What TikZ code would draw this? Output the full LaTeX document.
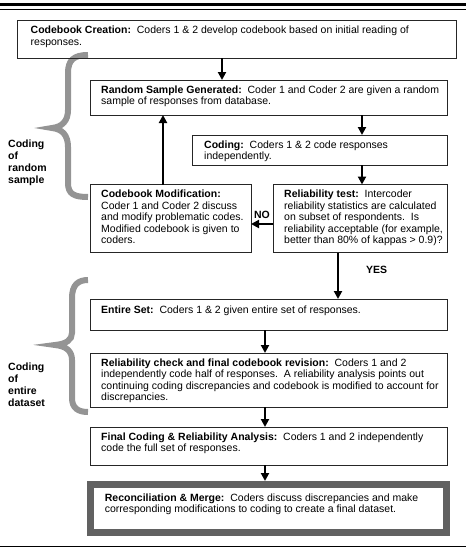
\documentclass[tikz,border=0pt]{standalone}
\usepackage{fontspec}
\setmainfont{Liberation Sans}
\usetikzlibrary{arrows.meta,calc}
\begin{document}
\begin{tikzpicture}[x=1pt,y=-1pt,
  box/.style={draw=black!85, line width=0.9pt, inner sep=0pt, outer sep=0pt, anchor=north west},
  txt/.style={anchor=north west, inner sep=0pt, align=left, font=\fontsize{10.5}{11.5}\selectfont},
  arr/.style={line width=2pt, -{Triangle[length=8pt,width=8pt]}},
  brace/.style={draw=black!42, line width=6pt},
  lbl/.style={anchor=north west, inner sep=0pt, align=left, font=\fontsize{10.5}{12.2}\selectfont\bfseries},
  yn/.style={inner sep=0pt, font=\fontsize{10.5}{12}\selectfont\bfseries}]
\useasboundingbox (0,0) rectangle (466,554);
% rules
\draw[line width=2.5pt] (0,4.5) -- (466,4.5);
\draw[line width=0.8pt] (0,9) -- (466,9);
\draw[line width=1.6pt] (0,546.5) -- (466,546.5);
% braces
\draw[brace] (88,55) .. controls (74,55) and (68,60) .. (68,73) -- (68,110) .. controls (68,121) and (62,127) .. (52,128) .. controls (62,129) and (68,135) .. (68,147) -- (68,183) .. controls (68,194) and (74,197) .. (88,197);
\draw[brace] (88,280) .. controls (78,280) and (72,285) .. (72,298) -- (72,333) .. controls (72,340) and (66,344) .. (55,345) .. controls (66,346) and (72,351) .. (72,360) -- (72,398) .. controls (72,408) and (78,412) .. (88,412);
\node[lbl] (l1) at (8,139.5) {Coding\\of\\random\\sample};
\node[lbl] (l2) at (8,362.5) {Coding\\of\\entire\\dataset};
% boxes
\node[box, minimum width=439pt, minimum height=38pt] (b1) at (17,20) {};
\node[box, minimum width=357pt, minimum height=35pt] (b2) at (90,80) {};
\node[box, minimum width=255pt, minimum height=30pt] (b3) at (192,135) {};
\node[box, minimum width=174pt, minimum height=68pt] (b4) at (273,184.5) {};
\node[box, minimum width=161pt, minimum height=68pt] (b5) at (90,184.5) {};
\node[box, minimum width=357pt, minimum height=31pt] (b6) at (90,299) {};
\node[box, minimum width=357pt, minimum height=54pt] (b7) at (90,353) {};
\node[box, minimum width=357pt, minimum height=38pt] (b8) at (90,427) {};
\node[box, draw=black!62, line width=7pt, minimum width=356.5pt, minimum height=48pt] (b9) at (90.2,484.5) {};
% texts
\node[txt] (t1) at ($(b1.north west)+(13.5,5.8)$) {\textbf{Codebook Creation:}\ \ Coders 1 \& 2 develop codebook based on initial reading of\\responses.};
\node[txt] (t2) at ($(b2.north west)+(11,5.3)$) {\textbf{Random Sample Generated:}\ \ Coder 1 and Coder 2 are given a random\\sample of responses from database.};
\node[txt] (t3) at ($(b3.north west)+(12,5.3)$) {\textbf{Coding:}\ \ Coders 1 \& 2 code responses\\independently.};
\node[txt] (t4) at ($(b4.north west)+(11,5.3)$) {\textbf{Reliability test:}\ \ Intercoder\\reliability statistics are calculated\\on subset of respondents.\ \ Is\\reliability acceptable (for example,\\better than 80\% of kappas > 0.9)?};
\node[txt] (t5) at ($(b5.north west)+(11,5.3)$) {\textbf{Codebook Modification:}\\Coder 1 and Coder 2 discuss\\and modify problematic codes.\\Modified codebook is given to\\coders.};
\node[txt] (t6) at ($(b6.north west)+(11,6.3)$) {\textbf{Entire Set:}\ \ Coders 1 \& 2 given entire set of responses.};
\node[txt] (t7) at ($(b7.north west)+(11,5.3)$) {\textbf{Reliability check and final codebook revision:}\ \ Coders 1 and 2\\independently code half of responses.\ \ A reliability analysis points out\\continuing coding discrepancies and codebook is modified to account for\\discrepancies.};
\node[txt] (t8) at ($(b8.north west)+(11,5.3)$) {\textbf{Final Coding \& Reliability Analysis:}\ \ Coders 1 and 2 independently\\code the full set of responses.};
\node[txt] (t9) at ($(b9.north west)+(14.5,8.8)$) {\textbf{Reconciliation \& Merge:}\ \ Coders discuss discrepancies and make\\corresponding modifications to coding to create a final dataset.};
% arrows
\draw[arr] (b1.south -| 222,0) -- (b2.north -| 222,0);
\draw[arr] (b2.south -| 362,0) -- (b3.north -| 362,0);
\draw[arr] (b3.south -| 362,0) -- (b4.north -| 362,0);
\draw[arr] (b4.west |- 0,224) -- (b5.east |- 0,224);
\node[yn, anchor=base] (no) at (262,218) {NO};
\draw[arr] (b5.north -| 163,0) -- (b2.south -| 163,0);
\draw[arr] (b4.south -| 338,0) -- (b6.north -| 338,0);
\node[yn, anchor=base west] (yes) at (366,273) {YES};
\draw[arr] (b6.south -| 265,0) -- (b7.north -| 265,0);
\draw[arr] (b7.south -| 265,0) -- (b8.north -| 265,0);
\draw[arr] (b8.south -| 265,0) -- ($(b9.north -| 265,0)+(0,-3.5)$);
\end{tikzpicture}
\end{document}
